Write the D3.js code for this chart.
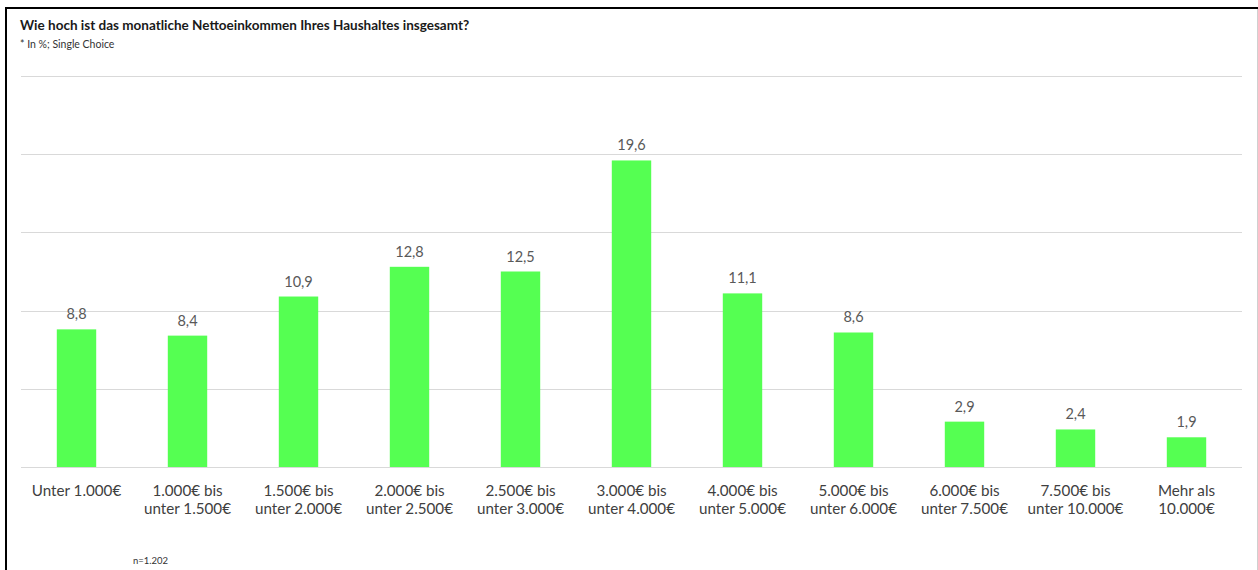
<!DOCTYPE html>
<html><head><meta charset="utf-8">
<script src="https://cdn.jsdelivr.net/npm/d3@7/dist/d3.min.js"></script>
<style>body{margin:0;background:#fff}svg{display:block}</style>
</head><body>
<svg id="chart" width="1258" height="570"></svg>
<script>
const categories = [
  ["Unter 1.000€"],
  ["1.000€ bis", "unter 1.500€"],
  ["1.500€ bis", "unter 2.000€"],
  ["2.000€ bis", "unter 2.500€"],
  ["2.500€ bis", "unter 3.000€"],
  ["3.000€ bis", "unter 4.000€"],
  ["4.000€ bis", "unter 5.000€"],
  ["5.000€ bis", "unter 6.000€"],
  ["6.000€ bis", "unter 7.500€"],
  ["7.500€ bis", "unter 10.000€"],
  ["Mehr als", "10.000€"]
];
const values = [8.8, 8.4, 10.9, 12.8, 12.5, 19.6, 11.1, 8.6, 2.9, 2.4, 1.9];
const yTicks = [0, 5, 10, 15, 20, 25];
const title = "Wie hoch ist das monatliche Nettoeinkommen Ihres Haushaltes insgesamt?";
const subtitle = "* In %; Single Choice";
const note = "n=1.202";

const svg = d3.select("#chart");
const font = "Lato, 'Open Sans', sans-serif";

// frame
svg.append("rect").attr("x",6).attr("y",8).attr("width",1300).attr("height",600)
  .attr("fill","none").attr("stroke","#000").attr("stroke-width",2);
svg.append("line").attr("x1",1257.5).attr("x2",1257.5).attr("y1",9).attr("y2",570)
  .attr("stroke","#d0d0d0").attr("stroke-width",1);

const x = d3.scaleBand().domain(d3.range(categories.length)).range([21, 1242])
  .paddingInner(0.645).paddingOuter(0.3225);
const y = d3.scaleLinear().domain([0, 25]).range([467, 76]);

// gridlines
svg.append("g").selectAll("line").data(yTicks).join("line")
  .attr("x1", 21).attr("x2", 1242)
  .attr("y1", d => Math.round(y(d)) + 0.5).attr("y2", d => Math.round(y(d)) + 0.5)
  .attr("stroke", "#d9d9d9").attr("stroke-width", 1.2);

// bars
svg.append("g").selectAll("rect").data(values).join("rect")
  .attr("x", (d,i) => x(i)).attr("width", x.bandwidth())
  .attr("y", d => y(d)).attr("height", d => y(0) - y(d))
  .attr("fill", "#55ff52");

// value labels
svg.append("g").selectAll("text").data(values).join("text")
  .attr("x", (d,i) => x(i) + x.bandwidth()/2).attr("y", d => y(d) - 10)
  .attr("text-anchor", "middle").attr("font-family", font).attr("font-size", 14.5)
  .attr("fill", "#595959").text(d => d.toFixed(1).replace(".", ","));

// category labels
const cat = svg.append("g").selectAll("text").data(categories).join("text")
  .attr("x", (d,i) => x(i) + x.bandwidth()/2).attr("y", 496)
  .attr("text-anchor", "middle").attr("font-family", font).attr("font-size", 15.2)
  .attr("fill", "#404040");
cat.selectAll("tspan").data(d => d).join("tspan")
  .attr("x", function(){ return d3.select(this.parentNode).attr("x"); })
  .attr("dy", (d,i) => i === 0 ? 0 : 18).text(d => d);

// title
svg.append("text").attr("x", 20).attr("y", 30).attr("font-family", font)
  .attr("font-size", 13.5).attr("font-weight", "bold").attr("fill", "#1a1a1a").text(title);
svg.append("text").attr("x", 20).attr("y", 48).attr("font-family", font)
  .attr("font-size", 10.5).attr("fill", "#333").text(subtitle);
svg.append("text").attr("x", 133).attr("y", 564).attr("font-family", font)
  .attr("font-size", 9.5).attr("fill", "#333").text(note);
</script>
</body></html>
